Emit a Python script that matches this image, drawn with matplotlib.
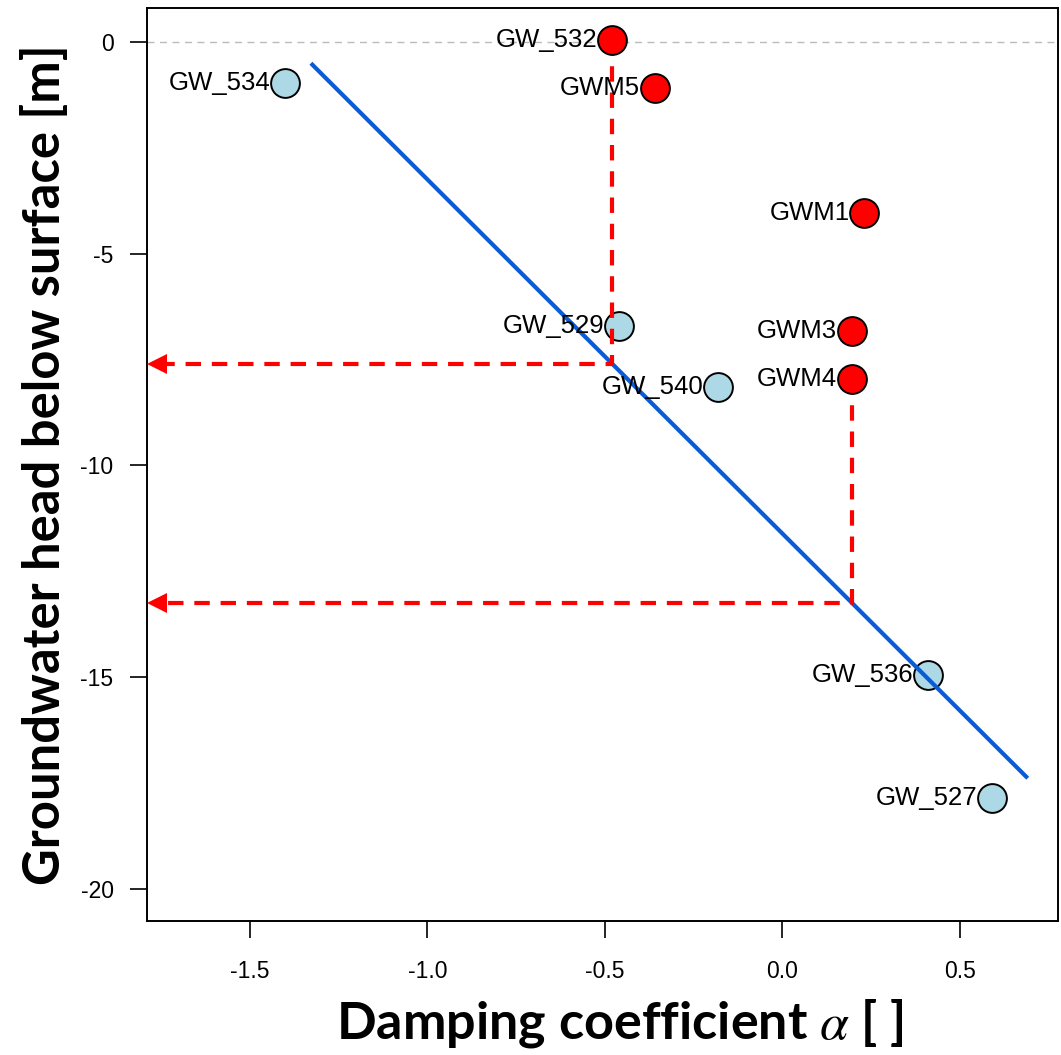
import numpy as np
import matplotlib as mpl
from matplotlib import pyplot as plt

mpl.rcParams['axes.unicode_minus'] = False
mpl.rcParams['mathtext.fontset'] = 'stix'

# Puits de référence (bleu) : coefficient d'amortissement et charge
ref_noms = ["GW_534", "GW_529", "GW_540", "GW_536", "GW_527"]
ref_alpha = [-1.40, -0.46, -0.18, 0.41, 0.59]
ref_tete = [-0.97, -6.71, -8.15, -14.95, -17.85]

# Puits à estimer (rouge)
est_noms = ["GW_532", "GWM5", "GWM1", "GWM3", "GWM4"]
est_alpha = [-0.48, -0.36, 0.23, 0.195, 0.195]
est_tete = [0.05, -1.09, -4.04, -6.82, -7.96]

# Droite de régression : tete = a + b * alpha
a_reg, b_reg = -11.61, -8.36
alpha_reg = [-1.324, 0.687]

# Lectures sur la droite (flèches)
lect_alpha = [-0.48, 0.195]
lect_depart = [0.05, -7.96]

xlim = (-1.79, 0.776)
ylim = (-20.76, 0.80)

fig = plt.figure(figsize=(10.61, 10.55), dpi=100)
ax = fig.add_axes([0.1385, 0.127, 0.8585, 0.8655])

ax.axhline(0, color="#BBBBBB", linestyle="--", linewidth=1, dashes=(5, 4), zorder=1)

ax.scatter(ref_alpha, ref_tete, s=430, color="lightblue", edgecolor="black",
           linewidth=1.4, zorder=2)

xr = np.array(alpha_reg)
ax.plot(xr, a_reg + b_reg * xr, color="#0a5cd6", linewidth=3, zorder=3)

for xa, y0 in zip(lect_alpha, lect_depart):
    yl = a_reg + b_reg * xa
    ax.plot([xa, xa, xlim[0] + 0.04], [y0, yl, yl], color="red", linewidth=3,
            linestyle="--", dashes=(3.7, 2.6), zorder=3)
    ax.plot(xlim[0] + 0.027, yl, marker="<", markersize=14, color="red",
            markeredgewidth=0, clip_on=False, zorder=3)

ax.scatter(est_alpha, est_tete, s=430, color="red", edgecolor="black",
           linewidth=1.4, zorder=4)

for nom, xa, ya in zip(ref_noms + est_noms, ref_alpha + est_alpha, ref_tete + est_tete):
    ax.annotate(nom, (xa, ya), xytext=(-10.5, 0), textcoords="offset points",
                ha="right", va="center", fontsize=18.5, family="Liberation Sans",
                zorder=5)

ax.set_xlim(xlim)
ax.set_ylim(ylim)
ax.set_xticks([-1.5, -1.0, -0.5, 0.0, 0.5])
ax.set_yticks([0, -5, -10, -15, -20])
ax.set_xticklabels(["-1.5", "-1.0", "-0.5", "0.0", "0.5"])
ax.set_yticklabels(["0", "-5", "-10", "-15", "-20"])
ax.tick_params(axis="both", direction="out", length=12, width=1.2,
               labelsize=16.5)
ax.tick_params(axis="x", pad=16)
ax.tick_params(axis="y", pad=12)
for lab in ax.get_xticklabels() + ax.get_yticklabels():
    lab.set_family("Liberation Sans")
for sp in ax.spines.values():
    sp.set_linewidth(1.4)

ax.set_xlabel(r"Damping coefficient $\mathit{\alpha}$ [ ]", fontsize=37.5,
              fontweight="bold", family="Lato", labelpad=10)
ax.xaxis.label.set_x(0.519)
ax.set_ylabel("Groundwater head below surface [m]", fontsize=36.5,
              fontweight="bold", family="Lato", labelpad=8)

plt.savefig("out.png", dpi=100)
